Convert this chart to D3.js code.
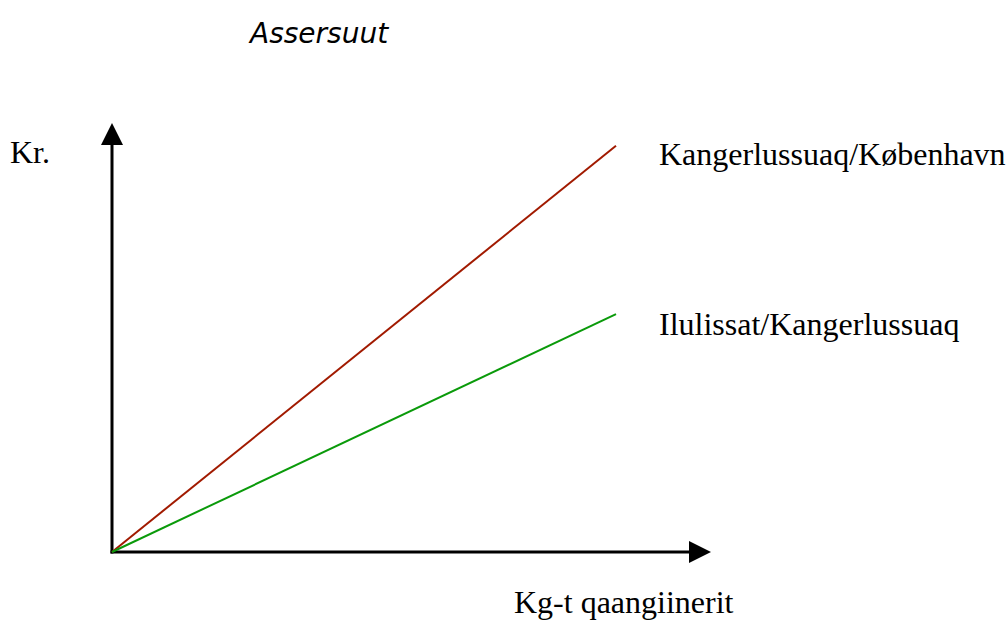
<!DOCTYPE html>
<html>
<head>
<meta charset="utf-8">
<script src="https://cdn.jsdelivr.net/npm/d3@7"></script>
<style>
html,body{margin:0;padding:0;background:#fff;}
svg{display:block;}
</style>
</head>
<body>
<script>
// Data
const xValues = [0, 100];
const redValues = [0, 80.6];   // Kangerlussuaq/København
const greenValues = [0, 47.2]; // Ilulissat/Kangerlussuaq
const seriesNames = ["Kangerlussuaq/København", "Ilulissat/Kangerlussuaq"];
const title = "Assersuut";
const yLabel = "Kr.";
const xLabel = "Kg-t qaangiinerit";

const W = 1007, H = 622;
const svg = d3.select("body").append("svg").attr("width", W).attr("height", H);

const x = d3.scaleLinear().domain([0, 100]).range([112, 616]);
const y = d3.scaleLinear().domain([0, 100]).range([552, 48]);

// Axes with arrowheads
const ox = x(0), oy = y(0);
svg.append("line").attr("x1", ox).attr("y1", oy + 1.5).attr("x2", ox).attr("y2", 140)
  .attr("stroke", "#000").attr("stroke-width", 3);
svg.append("path").attr("d", `M${ox},123 L${ox-11},145 L${ox+11},145 Z`).attr("fill", "#000");
svg.append("line").attr("x1", ox - 1.5).attr("y1", oy).attr("x2", 694).attr("y2", oy)
  .attr("stroke", "#000").attr("stroke-width", 3);
svg.append("path").attr("d", `M711,${oy} L689,${oy-11} L689,${oy+11} Z`).attr("fill", "#000");

const line = d3.line().x((d, i) => x(xValues[i])).y(d => y(d));
svg.append("path").datum(redValues).attr("d", line).attr("fill", "none")
  .attr("stroke", "#a11a00").attr("stroke-width", 2);
svg.append("path").datum(greenValues).attr("d", line).attr("fill", "none")
  .attr("stroke", "#0a9a0a").attr("stroke-width", 2);

const serif = "'Liberation Serif','Times New Roman',serif";
svg.append("text").attr("x", 250).attr("y", 43).text(title)
  .attr("font-family", "'DejaVu Sans',Verdana,sans-serif").attr("font-style", "italic")
  .attr("font-size", 28).attr("fill", "#000");
svg.append("text").attr("x", 10).attr("y", 163).text(yLabel)
  .attr("font-family", serif).attr("font-size", 32);
svg.append("text").attr("x", 659).attr("y", 165).text(seriesNames[0])
  .attr("font-family", serif).attr("font-size", 32);
svg.append("text").attr("x", 659).attr("y", 335).text(seriesNames[1])
  .attr("font-family", serif).attr("font-size", 32);
svg.append("text").attr("x", 514).attr("y", 613).text(xLabel)
  .attr("font-family", serif).attr("font-size", 32);
</script>
</body>
</html>
